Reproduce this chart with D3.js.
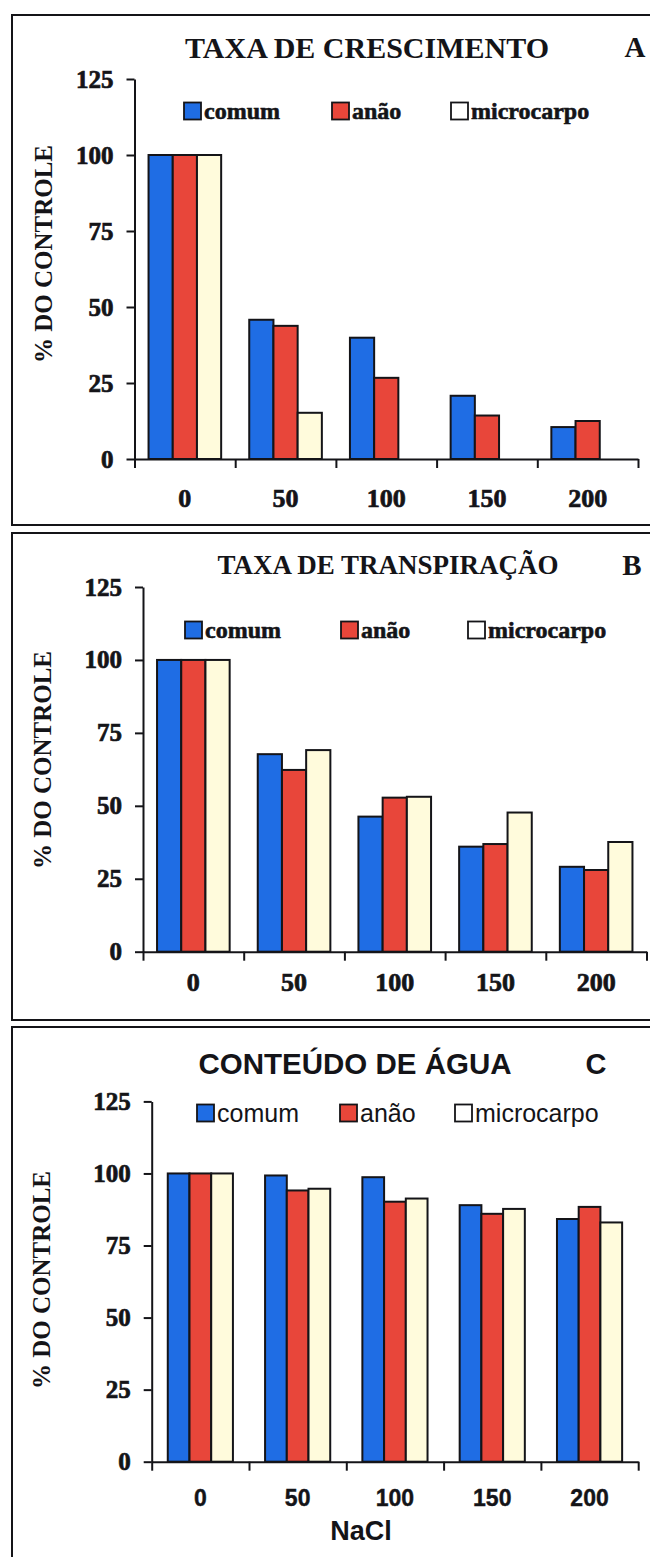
<!DOCTYPE html>
<meta charset="utf-8">
<head>
  <script src="https://d3js.org/d3.v7.min.js"></script>
  <style>
    body { margin: 0; background: #fff; }
    svg { display: block; }
  </style>
</head>
<body>
  <div id="my_dataviz"></div>
<script>
  // categories (NaCl) and series
  const categories = ["0", "50", "100", "150", "200"];
  const seriesNames = ["comum", "anão", "microcarpo"];
  const seriesColors = ["#1f6de4", "#e8463a", "#fffbdc"];
  const yTickValues = [0, 25, 50, 75, 100, 125];

  // A - taxa de crescimento (microcarpo has no bar at 100-200)
  const growthComum = [100, 45.8, 39.9, 20.8, 10.5];
  const growthAnao = [100, 43.8, 26.7, 14.3, 12.5];
  const growthMicro = [100, 15.2, null, null, null];

  // B - taxa de transpiração
  const transpComum = [100, 67.7, 46.3, 36.0, 29.1];
  const transpAnao = [100, 62.3, 52.8, 36.9, 28.0];
  const transpMicro = [100, 69.1, 53.1, 47.7, 37.6];

  // C - conteúdo de água
  const waterComum = [100, 99.3, 98.7, 89.0, 84.2];
  const waterAnao = [100, 94.1, 90.2, 86.0, 88.4];
  const waterMicro = [100, 94.7, 91.3, 87.7, 83.0];

  const W = 650, H = 1557;
  const serif = "'Liberation Serif', 'Times New Roman', serif";
  const sans = "'Liberation Sans', Arial, sans-serif";
  const ink = "#141418";

  var svg = d3.select("#my_dataviz")
    .append("svg")
    .attr("width", W)
    .attr("height", H);

  svg.append("rect").attr("width", W).attr("height", H).attr("fill", "#fff");

  // heavier look for the scanned bold serif text
  function heavy(sel, w) {
    return sel.attr("stroke", ink).attr("stroke-width", w).attr("paint-order", "stroke");
  }

  const panels = [
    {
      title: "TAXA DE CRESCIMENTO", letter: "A", titleFont: serif, titleSize: 30, legendFont: serif, legendWeight: "bold", legendSize: 24,
      xFont: serif, values: [growthComum, growthAnao, growthMicro],
      top: 15, bottom: 525, left: 134.5, right: 638, y0: 459, y125: 79, outer: 0.58,
      titleX: 367, titleY: 47, letterX: 635, legendY: 111, legendX: [184, 332, 451],
      xLabelOff: 39, yTitleX: 43, yTitleY: 254
    },
    {
      title: "TAXA DE TRANSPIRAÇÃO", letter: "B", titleFont: serif, titleSize: 27, legendFont: serif, legendWeight: "bold", legendSize: 24,
      xFont: serif, values: [transpComum, transpAnao, transpMicro],
      top: 533, bottom: 1020, left: 143, right: 646.5, y0: 951.7, y125: 587, outer: 0.58,
      titleX: 388, titleY: 565, letterX: 632, legendY: 630, legendX: [185, 341, 468],
      xLabelOff: 30, yTitleX: 42, yTitleY: 760
    },
    {
      title: "CONTEÚDO DE ÁGUA", letter: "C", titleFont: sans, titleSize: 29.5, legendFont: sans, legendWeight: "normal", legendSize: 25,
      xFont: sans, values: [waterComum, waterAnao, waterMicro],
      top: 1027, bottom: 1620, left: 151.7, right: 638.2, y0: 1461.7, y125: 1101.4, outer: 0.74,
      titleX: 355, titleY: 1064, letterX: 596, legendY: 1113, legendX: [197, 340, 455],
      xLabelOff: 36, yTitleX: 41, yTitleY: 1280, xTitle: "NaCl", xTitleX: 361, xTitleY: 1531
    }
  ];

  panels.forEach(p => {
    var g = svg.append("g");

    // panel frame (right edge runs off the page)
    g.append("rect")
      .attr("x", 12).attr("y", p.top)
      .attr("width", 680).attr("height", p.bottom - p.top)
      .attr("fill", "none").attr("stroke", ink).attr("stroke-width", 2);

    var x = d3.scaleBand().domain(categories).range([p.left, p.right]).padding(0);
    var xs = d3.scaleBand().domain(seriesNames).range([0, x.bandwidth()])
      .paddingInner(0).paddingOuter(p.outer);
    var y = d3.scaleLinear().domain([0, 125]).range([p.y0, p.y125]);

    // bars
    seriesNames.forEach((s, si) => {
      g.append("g").selectAll("rect")
        .data(categories.map((c, ci) => ({ c: c, v: p.values[si][ci] })).filter(d => d.v != null))
        .enter().append("rect")
        .attr("x", d => x(d.c) + xs(s))
        .attr("y", d => y(d.v))
        .attr("width", xs.bandwidth())
        .attr("height", d => y(0) - y(d.v))
        .attr("fill", seriesColors[si])
        .attr("stroke", ink)
        .attr("stroke-width", 2);
    });

    // y axis
    var yAxis = g.append("g")
      .attr("transform", "translate(" + p.left + ",0)")
      .call(d3.axisLeft(y).tickValues(yTickValues).tickSize(8).tickSizeOuter(0).tickPadding(13));
    yAxis.select(".domain").attr("stroke", ink).attr("stroke-width", 2);
    yAxis.selectAll(".tick line").attr("stroke", ink).attr("stroke-width", 2);
    heavy(yAxis.selectAll("text")
      .attr("font-family", serif).attr("font-weight", "bold")
      .attr("font-size", 25).attr("fill", ink), 0.7);

    // x axis: boundary ticks
    var xb = d3.scaleLinear().domain([0, categories.length]).range([p.left, p.right]);
    var xAxis = g.append("g")
      .attr("transform", "translate(0," + p.y0 + ")")
      .call(d3.axisBottom(xb).ticks(categories.length).tickFormat("").tickSize(9).tickSizeOuter(0));
    xAxis.select(".domain").attr("stroke", ink).attr("stroke-width", 2);
    xAxis.selectAll(".tick line").attr("stroke", ink).attr("stroke-width", 2);

    // x axis: category labels
    var xLab = g.append("g")
      .attr("transform", "translate(0," + p.y0 + ")")
      .call(d3.axisBottom(x).tickSize(0));
    xLab.select(".domain").remove();
    var xt = xLab.selectAll("text")
      .attr("font-family", p.xFont).attr("font-weight", "bold")
      .attr("font-size", p.xFont === sans ? 23 : 26).attr("fill", ink)
      .attr("dy", "0.35em").attr("y", p.xLabelOff);
    heavy(xt, p.xFont === sans ? 0.4 : 0.7);

    // title + panel letter
    g.append("text")
      .attr("x", p.titleX).attr("y", p.titleY).attr("dy", "0.35em")
      .attr("text-anchor", "middle")
      .attr("font-family", p.titleFont).attr("font-weight", "bold")
      .attr("font-size", p.titleSize).attr("fill", ink)
      .text(p.title);
    g.append("text")
      .attr("x", p.letterX).attr("y", p.titleY).attr("dy", "0.35em")
      .attr("text-anchor", "middle")
      .attr("font-family", p.titleFont).attr("font-weight", "bold")
      .attr("font-size", 29).attr("fill", ink)
      .text(p.letter);

    // legend
    seriesNames.forEach((s, si) => {
      g.append("rect")
        .attr("x", p.legendX[si]).attr("y", p.legendY - 8.5)
        .attr("width", 17).attr("height", 17)
        .attr("fill", seriesColors[si] === "#fffbdc" ? "#fff" : seriesColors[si])
        .attr("stroke", ink).attr("stroke-width", 1.8);
      var lt = g.append("text")
        .attr("x", p.legendX[si] + 20).attr("y", p.legendY).attr("dy", "0.35em")
        .attr("font-family", p.legendFont).attr("font-weight", p.legendWeight)
        .attr("font-size", p.legendSize).attr("fill", ink)
        .text(s);
      if (p.legendFont === serif) heavy(lt, 0.6);
    });

    // y title
    g.append("text")
      .attr("transform", "translate(" + p.yTitleX + "," + p.yTitleY + ") rotate(-90)")
      .attr("dy", "0.35em")
      .attr("text-anchor", "middle")
      .attr("font-family", serif).attr("font-weight", "bold")
      .attr("font-size", 25).attr("fill", ink)
      .text("% DO CONTROLE");

    if (p.xTitle) {
      g.append("text")
        .attr("x", p.xTitleX).attr("y", p.xTitleY).attr("dy", "0.35em")
        .attr("text-anchor", "middle")
        .attr("font-family", sans).attr("font-weight", "bold")
        .attr("font-size", 27).attr("fill", ink)
        .text(p.xTitle);
    }
  });
</script>
</body>
